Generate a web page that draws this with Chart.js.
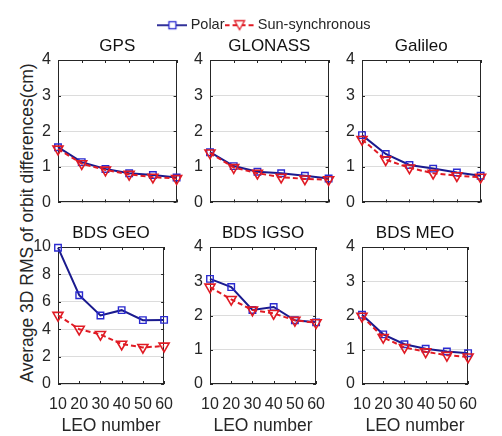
<!DOCTYPE html>
<html>
<head>
<meta charset="utf-8">
<script src="https://cdn.jsdelivr.net/npm/chart.js@4.4.1/dist/chart.umd.min.js"></script>
<style>
  body { margin: 0; width: 502px; height: 436px; background: #fff; position: relative; overflow: hidden;
         font-family: "Liberation Sans", Arial, sans-serif; }
  canvas { position: absolute; }
  #ylabel { position: absolute; left: 27px; top: 223px; transform: translate(-50%, -50%) rotate(-90deg);
            white-space: nowrap; font-size: 17.5px; color: #262626; }
</style>
</head>
<body>
<div id="ylabel">Average 3D RMS of orbit differences(cm)</div>
<script>
// LEO constellation sizes (x axis)
const leoNumbers = [10, 20, 30, 40, 50, 60];

// average 3D RMS of orbit differences (cm)
const gpsPolar     = [1.55, 1.13, 0.94, 0.82, 0.77, 0.70];
const gpsSun       = [1.50, 1.09, 0.91, 0.79, 0.71, 0.67];
const glonassPolar = [1.41, 1.02, 0.86, 0.82, 0.75, 0.67];
const glonassSun   = [1.39, 0.98, 0.82, 0.71, 0.66, 0.64];
const galileoPolar = [1.89, 1.36, 1.05, 0.95, 0.84, 0.75];
const galileoSun   = [1.77, 1.20, 0.97, 0.82, 0.75, 0.71];
const geoPolar     = [9.95, 6.48, 5.00, 5.39, 4.66, 4.68];
const geoSun       = [5.02, 4.00, 3.62, 2.91, 2.67, 2.77];
const igsoPolar    = [3.07, 2.83, 2.16, 2.25, 1.86, 1.80];
const igsoSun      = [2.83, 2.47, 2.16, 2.06, 1.86, 1.79];
const meoPolar     = [2.02, 1.45, 1.16, 1.03, 0.95, 0.90];
const meoSun       = [1.98, 1.36, 1.07, 0.94, 0.84, 0.79];

const panelTitles = ['GPS', 'GLONASS', 'Galileo', 'BDS GEO', 'BDS IGSO', 'BDS MEO'];
const polarSeries = [gpsPolar, glonassPolar, galileoPolar, geoPolar, igsoPolar, meoPolar];
const sunSeries   = [gpsSun, glonassSun, galileoSun, geoSun, igsoSun, meoSun];
const yMaxes      = [4, 4, 4, 10, 4, 4];
const ySteps      = [1, 1, 1, 2, 1, 1];
const seriesNames = ['Polar', 'Sun-synchronous'];

const FONT = '"Liberation Sans", Arial, sans-serif';
const TEXT = '#262626';
const POLAR_LINE = '#1a1a8e';
const POLAR_MARK = '#2a2ad0';
const SUN_RED = '#e01b24';

// layout of the 2x3 grid (plot areas)
const plotLefts = [58, 210, 362];
const plotWidth = 114;
const rows = [
  { top: 60, height: 147, band: 12 },
  { top: 247, height: 137, band: 52 }
];
const Y_AXIS_W = 40;
const TITLE_H = 28;
const RIGHT_PAD = 12;

// box around each axes plus inward tick marks, like matlab
const framePlugin = {
  id: 'frame',
  beforeDatasetsDraw(chart) {
    const { ctx, chartArea: a, scales: { x, y } } = chart;
    ctx.save();
    ctx.strokeStyle = TEXT;
    ctx.lineWidth = 1;
    ctx.beginPath();
    x.ticks.forEach(t => {
      const px = Math.round(x.getPixelForValue(t.value)) + 0.5;
      ctx.moveTo(px, a.bottom); ctx.lineTo(px, a.bottom - 3);
      ctx.moveTo(px, a.top); ctx.lineTo(px, a.top + 3);
    });
    y.ticks.forEach(t => {
      const py = Math.round(y.getPixelForValue(t.value)) + 0.5;
      ctx.moveTo(a.left, py); ctx.lineTo(a.left + 3, py);
      ctx.moveTo(a.right, py); ctx.lineTo(a.right - 3, py);
    });
    ctx.stroke();
    ctx.strokeRect(Math.round(a.left) + 0.5, Math.round(a.top) + 0.5,
                   Math.round(a.width) - 1, Math.round(a.height) - 1);
    ctx.restore();
  }
};

function toPoints(values) {
  return leoNumbers.map((n, i) => ({ x: n, y: values[i] }));
}

function makePanel(i) {
  const row = rows[Math.floor(i / 3)];
  const bottomRow = i >= 3;
  const canvas = document.createElement('canvas');
  const w = Y_AXIS_W + plotWidth + RIGHT_PAD;
  const h = TITLE_H + row.height + row.band;
  canvas.width = w; canvas.height = h;
  canvas.style.width = w + 'px'; canvas.style.height = h + 'px';
  canvas.style.left = (plotLefts[i % 3] - Y_AXIS_W) + 'px';
  canvas.style.top = (row.top - TITLE_H) + 'px';
  document.body.appendChild(canvas);

  new Chart(canvas, {
    type: 'line',
    data: {
      datasets: [{
        label: seriesNames[0],
        data: toPoints(polarSeries[i]),
        order: 1,
        borderColor: POLAR_LINE,
        borderWidth: 2,
        pointStyle: 'rect',
        pointRadius: 4.6,
        pointBorderColor: POLAR_MARK,
        pointBorderWidth: 1.4,
        pointBackgroundColor: 'rgba(255,255,255,0)',
        tension: 0,
        clip: false
      }, {
        label: seriesNames[1],
        data: toPoints(sunSeries[i]),
        order: 0,
        borderColor: SUN_RED,
        borderWidth: 2,
        borderDash: [5, 3],
        pointStyle: 'triangle',
        pointRotation: 180,
        pointRadius: 5.8,
        pointBorderColor: SUN_RED,
        pointBorderWidth: 1.6,
        pointBackgroundColor: 'rgba(255,255,255,0)',
        tension: 0,
        clip: false
      }]
    },
    options: {
      responsive: false,
      animation: false,
      events: [],
      layout: { padding: 0 },
      plugins: {
        legend: { display: false },
        tooltip: { enabled: false },
        title: {
          display: true,
          text: panelTitles[i],
          fullSize: false,
          color: '#111',
          font: { family: FONT, size: 17, weight: 'normal', lineHeight: 1 },
          padding: { top: 5.5, bottom: 5.5 }
        }
      },
      scales: {
        x: {
          type: 'linear',
          min: 10,
          max: 60,
          afterFit(s) { s.height = row.band; },
          border: { display: false },
          grid: { display: false, drawTicks: false },
          ticks: {
            display: bottomRow,
            stepSize: 10,
            autoSkip: false,
            maxRotation: 0,
            padding: 11,
            color: TEXT,
            font: { family: FONT, size: 16 }
          },
          title: {
            display: bottomRow,
            text: 'LEO number',
            color: TEXT,
            font: { family: FONT, size: 17.5, lineHeight: 1 },
            padding: { top: 0, bottom: 1 }
          }
        },
        y: {
          min: 0,
          max: yMaxes[i],
          afterFit(s) { s.width = Y_AXIS_W; },
          border: { display: false },
          grid: { color: '#dcdcdc', drawTicks: false },
          ticks: {
            stepSize: ySteps[i],
            padding: 7,
            color: TEXT,
            font: { family: FONT, size: 16 }
          }
        }
      }
    },
    plugins: [framePlugin]
  });
}

// legend icons: short line with the marker in the middle
function legendIcon(color, markColor, dash, drawMark) {
  const c = document.createElement('canvas');
  c.width = 30; c.height = 14;
  const g = c.getContext('2d');
  g.strokeStyle = color;
  g.lineWidth = 1.8;
  g.setLineDash(dash);
  g.beginPath(); g.moveTo(0, 7); g.lineTo(30, 7); g.stroke();
  g.setLineDash([]);
  g.strokeStyle = markColor;
  g.fillStyle = '#fff';
  g.lineWidth = 1.3;
  drawMark(g);
  return c;
}
const polarIcon = legendIcon(POLAR_LINE, POLAR_MARK, [], g => {
  g.fillRect(12, 4, 6, 6); g.strokeRect(11.5, 3.5, 7, 7);
});
const sunIcon = legendIcon(SUN_RED, SUN_RED, [5, 3], g => {
  g.beginPath(); g.moveTo(10, 2.5); g.lineTo(20, 2.5); g.lineTo(15, 11.5); g.closePath();
  g.fill(); g.stroke();
});

function makeLegend() {
  const canvas = document.createElement('canvas');
  canvas.width = 468; canvas.height = 50;
  canvas.style.width = '468px'; canvas.style.height = '50px';
  canvas.style.left = '32px'; canvas.style.top = '0px';
  document.body.appendChild(canvas);
  const icons = [polarIcon, sunIcon];
  new Chart(canvas, {
    type: 'line',
    data: { datasets: seriesNames.map(name => ({ label: name, data: [] })) },
    options: {
      responsive: false,
      animation: false,
      events: [],
      layout: { padding: { top: 14 } },
      scales: { x: { display: false }, y: { display: false } },
      plugins: {
        tooltip: { enabled: false },
        legend: {
          display: true,
          position: 'top',
          labels: {
            usePointStyle: true,
            pointStyleWidth: 22,
            padding: 4,
            color: TEXT,
            font: { family: FONT, size: 14.5 },
            generateLabels: chart => chart.data.datasets.map((ds, k) => ({
              text: ds.label,
              pointStyle: icons[k],
              fontColor: TEXT,
              lineWidth: 0,
              strokeStyle: 'rgba(0,0,0,0)',
              fillStyle: 'rgba(0,0,0,0)',
              hidden: false,
              datasetIndex: k
            }))
          }
        }
      }
    }
  });
}

makeLegend();
for (let i = 0; i < 6; i++) makePanel(i);
</script>
</body>
</html>
